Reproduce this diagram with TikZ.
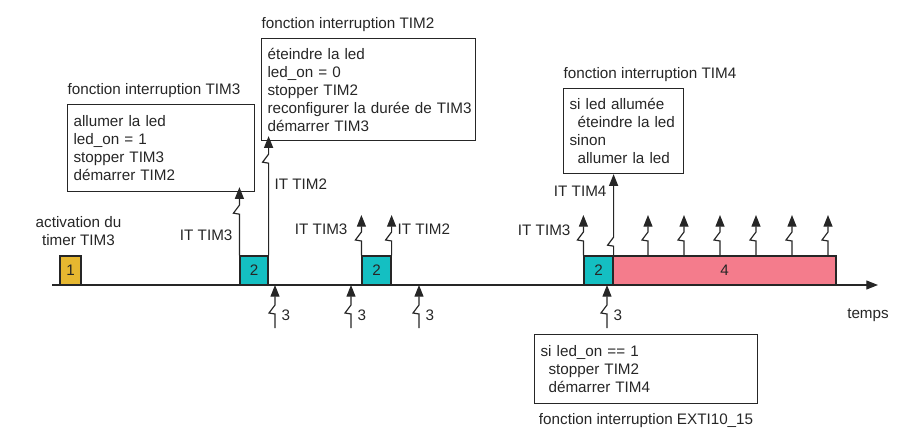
\documentclass[tikz,border=0pt]{standalone}
\usepackage{fontspec}
\setmainfont{Liberation Sans}
\usetikzlibrary{arrows.meta,calc,positioning}
\definecolor{slotyellow}{HTML}{E6B730}
\definecolor{slotcyan}{HTML}{14BFC2}
\definecolor{slotred}{HTML}{F47C8C}
\tikzset{
  txt/.style={font=\fontsize{13}{15.4}\selectfont, inner sep=0pt},
  routine/.style={draw, txt, inner xsep=1.8mm, inner ysep=0pt, align=left, anchor=north west},
  slot/.style={draw, txt, minimum height=8.7mm},
  zap/.style={to path={-- ($(\tikztotarget)+(0,#1)$) -- ++(-6,-1) -- ++(6,-8) -- (\tikztotarget)}},
}
\newcommand{\ind}{\hspace*{2.4mm}}
\begin{document}
\begin{tikzpicture}[x=0.3mm,y=-0.3mm,>={Triangle[length=3.5mm,width=2.7mm]},line width=1pt,color=black!85]
\useasboundingbox (0,0) rectangle (918,442);
% time axis
\coordinate (o) at (52,285);
\coordinate (e) at (878,285);
\draw[->] (o) -- (e);
\node[txt] (temps) at (868,315) {temps};
% periods on the axis
\node[slot, fill=slotyellow, minimum width=6.3mm] (b1) at (70.5,270.5) {1};
\node[slot, fill=slotcyan, minimum width=8.4mm] (b2a) at (254,270.5) {2};
\node[slot, fill=slotcyan, minimum width=8.7mm] (b2b) at (376.5,270.5) {2};
\node[slot, fill=slotcyan, minimum width=8.7mm] (b2c) at (598.5,270.5) {2};
\node[slot, fill=slotred, minimum width=66.9mm] (b4) at (724.5,270.5) {4};
\node[txt, align=center] (act) at (78.5,231) {activation du\\timer TIM3};
% interrupt routines
\node[routine, text width=52.5mm, minimum height=26.1mm] (f3) at (67,104)
  {allumer la led\\led\_on = 1\\stopper TIM3\\démarrer TIM2};
\node[txt, above right=1.6mm and 0mm of f3.north west] (t3) {fonction interruption TIM3};
\node[routine, text width=60.6mm, minimum height=30.6mm] (f2) at (261,38)
  {éteindre la led\\led\_on = 0\\stopper TIM2\\\mbox{reconfigurer la durée de TIM3}\\démarrer TIM3};
\node[txt, above right=1.6mm and 0mm of f2.north west] (t2) {fonction interruption TIM2};
\node[routine, text width=32.4mm, minimum height=25.5mm] (f4) at (563,88)
  {si led allumée\\\ind éteindre la led\\sinon\\\ind allumer la led};
\node[txt, above right=1.6mm and 0mm of f4.north west] (t4) {fonction interruption TIM4};
\node[routine, text width=63.3mm, minimum height=20.7mm] (fe) at (534,334)
  {si led\_on == 1\\\ind stopper TIM2\\\ind démarrer TIM4};
\node[txt, below=2.5mm of fe.south] (te) {fonction interruption EXTI10\_15};
% interrupts
\coordinate (h3) at (b2a.north west |- f3.south);
\draw[->, zap=22, shorten >=-1.5mm] (b2a.north west) to (h3);
\node[txt, anchor=east] (i3a) at (233,235) {IT TIM3};
\coordinate (h2) at (b2a.north east |- f2.south);
\draw[->, zap=22, shorten >=-1.5mm] (b2a.north east) to (h2);
\node[txt, anchor=west] (i2a) at (274,184) {IT TIM2};
\coordinate (lv) at (0,215);
\coordinate (u1) at (b2b.north west |- lv);
\coordinate (u2) at (b2b.north east |- lv);
\coordinate (u3) at (b2c.north west |- lv);
\draw[->, zap=26] (b2b.north west) to (u1);
\draw[->, zap=26] (b2b.north east) to (u2);
\draw[->, zap=26] (b2c.north west) to (u3);
\node[txt, anchor=east] (i3b) at (348,229) {IT TIM3};
\node[txt, anchor=west] (i2b) at (397,229) {IT TIM2};
\node[txt, anchor=east] (i3c) at (571,230) {IT TIM3};
\coordinate (h4) at (b2c.north east |- f4.south);
\draw[->, zap=72] (b2c.north east) to (h4);
\node[txt, anchor=east] (i4) at (607,191) {IT TIM4};
\foreach \x [count=\i] in {648,684,720,756,792,828} {
  \coordinate (r\i) at (\x,215);
  \draw[->, zap=26] (r\i |- b4.north) to (r\i);
}
% button presses
\foreach \x [count=\i] in {275,351,419,607} {
  \coordinate (p\i) at (\x,328);
  \draw[->, zap=29] (p\i) to (p\i |- o);
  \node[txt, anchor=west] (n\i) at ($(p\i)+(6,-13)$) {3};
}
\end{tikzpicture}
\end{document}
